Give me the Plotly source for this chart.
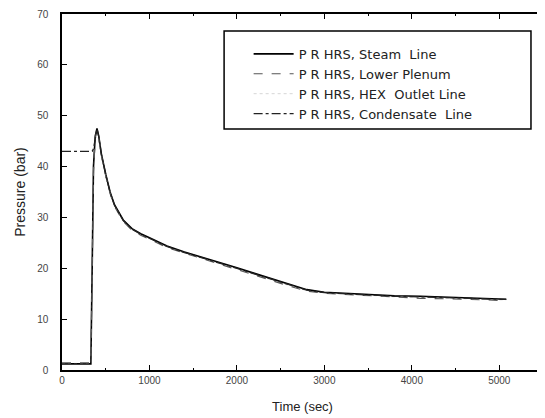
import plotly.graph_objects as go

time_s = [0, 330, 345, 360, 380, 400, 420, 450, 500, 550, 600, 700, 800, 900, 1000,
          1200, 1400, 1600, 1800, 2000, 2200, 2400, 2600, 2800, 3000, 3200, 3500,
          3800, 4100, 4400, 4700, 5000, 5080]
steam_line = [1.2, 1.2, 20, 40, 46, 47.5, 46, 42.5, 38.5, 35, 32.5, 29.5, 27.8, 26.8, 26,
              24.4, 23.2, 22.2, 21.1, 20.1, 19, 17.9, 16.8, 15.8, 15.3, 15.1, 14.8,
              14.6, 14.5, 14.3, 14.1, 14.0, 13.9]
lower_plenum = [1.4, 1.4, 19, 39, 45.5, 47.2, 45.6, 42.2, 38.2, 34.7, 32.2, 29.2, 27.5, 26.5, 25.7,
                24.1, 23.0, 21.9, 20.8, 19.8, 18.7, 17.6, 16.5, 15.5, 15.1, 14.9, 14.6,
                14.3, 14.1, 14.0, 13.8, 13.7, 13.7]
hex_outlet = [1.3, 1.3, 19.5, 39.5, 45.8, 47.3, 45.8, 42.3, 38.3, 34.8, 32.3, 29.3, 27.6, 26.6, 25.8,
              24.2, 23.1, 22.0, 20.9, 19.9, 18.8, 17.7, 16.6, 15.6, 15.2, 15.0, 14.7,
              14.4, 14.3, 14.1, 14.0, 13.8, 13.8]
condensate_line = [43, 43, 43, 43.5, 45.8, 47.4, 45.9, 42.4, 38.4, 34.9, 32.4, 29.4, 27.7, 26.7, 25.9,
                   24.3, 23.1, 22.1, 21.0, 20.0, 18.9, 17.8, 16.7, 15.7, 15.2, 15.0, 14.7,
                   14.5, 14.4, 14.2, 14.1, 13.9, 13.9]

x_ticks = [0, 1000, 2000, 3000, 4000, 5000]
y_ticks = [0, 10, 20, 30, 40, 50, 60, 70]

font = "Liberation Sans, Arial, sans-serif"
lfont = "DejaVu Sans, sans-serif"
fig = go.Figure()
fig.add_trace(go.Scatter(x=time_s, y=steam_line, mode="lines", name="P R HRS, Steam  Line",
                         line=dict(color="black", width=1.6, dash="solid")))
fig.add_trace(go.Scatter(x=time_s, y=lower_plenum, mode="lines", name="P R HRS, Lower Plenum",
                         line=dict(color="#555", width=1.2, dash="dash")))
fig.add_trace(go.Scatter(x=time_s, y=hex_outlet, mode="lines", name="P R HRS, HEX  Outlet Line",
                         line=dict(color="rgba(120,120,120,0.3)", width=1, dash="dot")))
fig.add_trace(go.Scatter(x=time_s, y=condensate_line, mode="lines", name="P R HRS, Condensate  Line",
                         line=dict(color="#222", width=1.3, dash="dashdot")))

axis_common = dict(showline=True, linecolor="black", linewidth=1.5, mirror="ticks",
                   ticks="inside", ticklen=5, tickcolor="black", showgrid=False, zeroline=False,
                   automargin=False,
                   tickfont=dict(family=font, size=10, color="#444"))
fig.update_xaxes(range=[0, 5500], tickvals=x_ticks,
                 minor=dict(dtick=500, ticks="inside", ticklen=2, tickcolor="black"),
                 title=dict(text="Time (sec)", font=dict(family=font, size=13, color="#222"), standoff=17),
                 **axis_common)
fig.update_yaxes(range=[0, 70], tickvals=y_ticks, ticklabelstandoff=10,
                 title=dict(text="Pressure (bar)", font=dict(family=font, size=14, color="#222"), standoff=8),
                 **axis_common)
fig.add_shape(type="rect", xref="paper", yref="paper", x0=0.337, x1=0.975, y0=0.677, y1=0.952,
              line=dict(color="black", width=1.5), fillcolor="rgba(0,0,0,0)", layer="above")
fig.update_layout(
    width=537, height=410,
    margin=dict(l=54, r=2, t=6, b=48),
    paper_bgcolor="white", plot_bgcolor="white",
    showlegend=True,
    legend=dict(x=0.388, y=0.93, xanchor="left", yanchor="top",
                borderwidth=0, bgcolor="rgba(255,255,255,0)",
                font=dict(family=lfont, size=13, color="#222"),
                tracegroupgap=0, itemwidth=40),
)
fig.write_html("out.html")
